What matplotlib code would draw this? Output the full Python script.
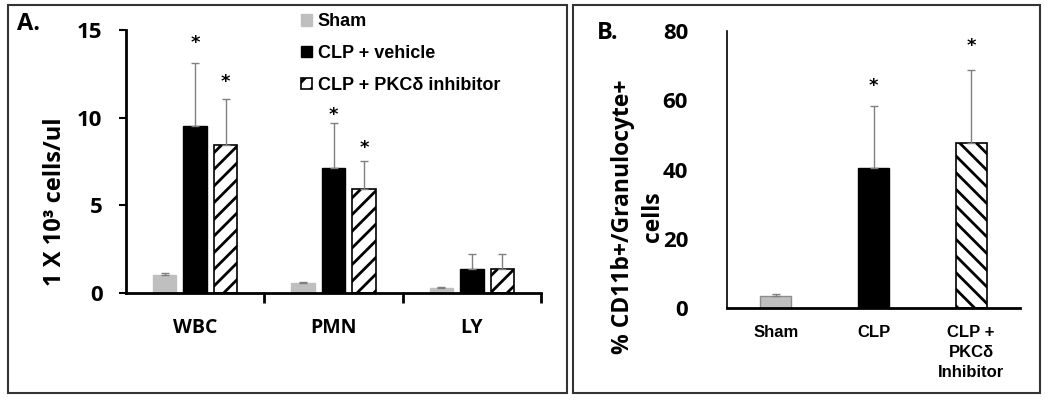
import matplotlib
matplotlib.use("Agg")
import matplotlib.pyplot as plt
from matplotlib.patches import Rectangle
import numpy as np

# Panel A data
groups_a = ["WBC", "PMN", "LY"]
sham_a = [1.0, 0.57, 0.27]
sham_a_err = [0.12, 0.07, 0.09]
vehicle_a = [9.55, 7.15, 1.39]
vehicle_a_err = [3.55, 2.53, 0.81]
inhib_a = [8.45, 5.91, 1.39]
inhib_a_err = [2.62, 1.6, 0.81]
# heights of the significance stars (None = no star)
star_a_vehicle = [14.4, 10.3, None]
star_a_inhib = [12.2, 8.45, None]

# Panel B data
groups_b = ["Sham", "CLP", "CLP +\nPKC\u03b4\nInhibitor"]
values_b = [3.5, 40.4, 47.7]
errors_b = [0.6, 17.8, 21.1]
star_b = [None, 65, 76.5]

plt.rcParams["hatch.linewidth"] = 2.0
FONT = "Open Sans"

fig = plt.figure(figsize=(10.5, 4), dpi=100)

# panel frames
fig.patches.append(Rectangle((8/1050, 7/400), 559/1050, 388/400, transform=fig.transFigure,
                             fill=False, edgecolor="#333333", linewidth=1.5))
fig.patches.append(Rectangle((573/1050, 7/400), 467/1050, 388/400, transform=fig.transFigure,
                             fill=False, edgecolor="#333333", linewidth=1.5))


def star(axis, xpos, ypos):
    axis.annotate("*", (xpos, ypos), xytext=(0, -2), textcoords="offset points",
                  ha="center", va="center", fontsize=13, family="DejaVu Sans",
                  fontweight="bold")


# ---------- Panel A ----------
ax = fig.add_axes([126/1050, 1 - 293/400, 415/1050, 263/400])
x = np.arange(len(groups_a))
w = 0.17
off = 0.22
ekw = dict(ecolor="#808080", elinewidth=1, capsize=3, capthick=1)
ax.bar(x - off, sham_a, w, color="#BFBFBF", edgecolor="#BFBFBF", label="Sham",
       yerr=[np.zeros(3), sham_a_err], error_kw=ekw)
ax.bar(x, vehicle_a, w, color="black", edgecolor="black", label="CLP + vehicle",
       yerr=[np.zeros(3), vehicle_a_err], error_kw=ekw)
ax.bar(x + off, inhib_a, w, color="white", edgecolor="black", hatch="//", linewidth=1.2,
       label="CLP + PKC\u03b4 inhibitor", yerr=[np.zeros(3), inhib_a_err], error_kw=ekw)

for i in range(3):
    if star_a_vehicle[i] is not None:
        star(ax, x[i], star_a_vehicle[i])
    if star_a_inhib[i] is not None:
        star(ax, x[i] + off, star_a_inhib[i])

ax.set_xlim(-0.5, 2.5)
ax.set_ylim(0, 15)
ax.set_yticks([0, 5, 10, 15])
ax.set_xticks(x)
ax.set_xticklabels(groups_a, family=FONT, fontweight="bold", fontsize=14)
ax.set_xticks([0.5, 1.5, 2.5], minor=True)
ax.tick_params(axis="x", which="major", length=0, pad=18)
ax.tick_params(axis="x", which="minor", length=7, width=2, direction="out")
ax.tick_params(axis="y", length=5, width=1.5, pad=12)
for lab in ax.get_yticklabels():
    lab.set_fontfamily(FONT)
    lab.set_fontweight("bold")
    lab.set_fontsize(16)
for s in ["top", "right"]:
    ax.spines[s].set_visible(False)
ax.spines["left"].set_linewidth(2)
ax.spines["bottom"].set_linewidth(2)

fig.text(55/1050, 1 - 202/400, "1 X 10\u00b3 cells/ul", rotation=90, ha="center", va="center",
         family=FONT, fontweight="bold", fontsize=17)

fig.legend(loc="upper left", bbox_to_anchor=(285/1050, 1 + 3/400), frameon=False,
           prop={"family": "Liberation Sans", "weight": "bold", "size": 13},
           handlelength=0.6, handleheight=0.6, handletextpad=0.3, labelspacing=0.82)

fig.text(17/1050, 1 - 24/400, "A.", family=FONT, fontweight="bold", fontsize=17, va="center")

# ---------- Panel B ----------
bx = fig.add_axes([727/1050, 1 - 308/400, 293/1050, 277/400])
xb = np.arange(len(groups_b))
wb = 0.32
ekw_b = dict(ecolor="#808080", elinewidth=1, capsize=3, capthick=1)
bx.bar(xb[0], values_b[0], wb, color="#BFBFBF", edgecolor="#8C8C8C", linewidth=1,
       yerr=[[0], [errors_b[0]]], error_kw=ekw_b)
bx.bar(xb[1], values_b[1], wb, color="black", edgecolor="black",
       yerr=[[0], [errors_b[1]]], error_kw=ekw_b)
bx.bar(xb[2], values_b[2], wb, color="white", edgecolor="black", hatch="\\\\", linewidth=1.2,
       yerr=[[0], [errors_b[2]]], error_kw=ekw_b)
for i in range(3):
    if star_b[i] is not None:
        star(bx, xb[i], star_b[i])

bx.set_xlim(-0.5, 2.5)
bx.set_ylim(0, 80)
bx.set_yticks([0, 20, 40, 60, 80])
bx.set_xticks(xb)
bx.set_xticklabels(groups_b, family="Liberation Sans", fontweight="bold", fontsize=12,
                   linespacing=1.45)
bx.tick_params(axis="x", length=0, pad=12)
bx.tick_params(axis="y", length=0, pad=28)
for lab in bx.get_yticklabels():
    lab.set_fontfamily(FONT)
    lab.set_fontweight("bold")
    lab.set_fontsize(16)
for s in ["top", "right"]:
    bx.spines[s].set_visible(False)
bx.spines["left"].set_linewidth(1.2)
bx.spines["bottom"].set_linewidth(2)

fig.text(638/1050, 1 - 217/400, "% CD11b+/Granulocyte+\ncells", rotation=90, ha="center",
         va="center", family=FONT, fontweight="bold", fontsize=16.5, linespacing=1.3)

fig.text(597/1050, 1 - 33/400, "B.", family=FONT, fontweight="bold", fontsize=17, va="center")

fig.savefig("out.png", dpi=100)
